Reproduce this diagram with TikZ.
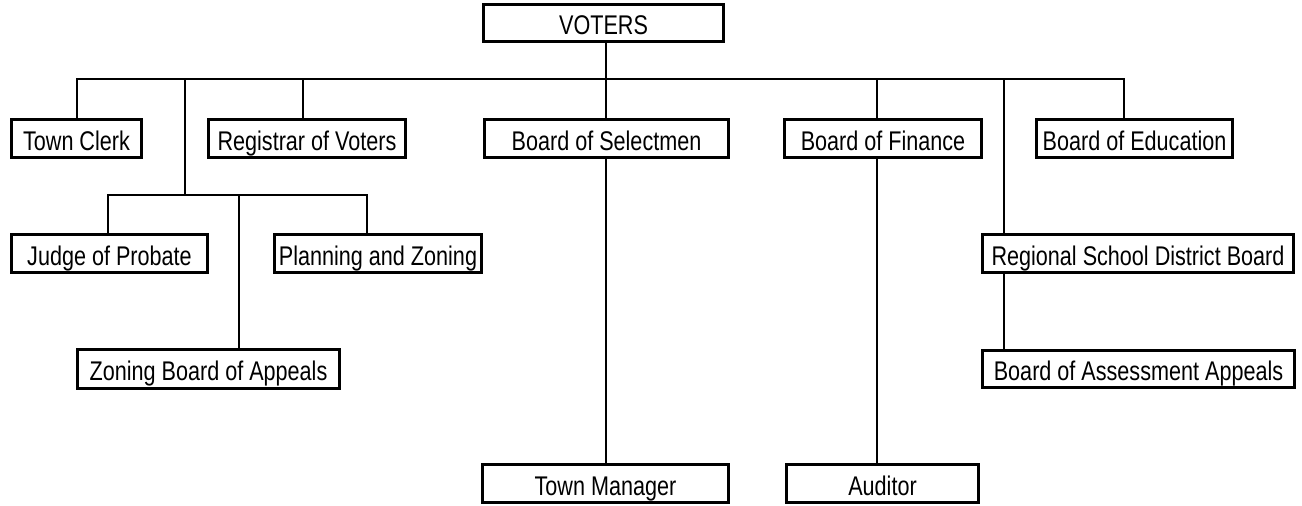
\documentclass[tikz,border=0pt]{standalone}
\usepackage{fontspec}
\setmainfont{Liberation Sans}[FakeStretch=0.80]
\begin{document}
\begin{tikzpicture}[x=1pt,y=-1pt,
  box/.style={draw,line width=3pt,rectangle,inner sep=0pt,outer sep=0pt,
    text height=23pt,text depth=0pt,
    font=\fontsize{27}{30}\selectfont},
  link/.style={line width=2pt}]
\useasboundingbox (0,0) rectangle (1302,506);
% boxes
\node[box,minimum width=240pt,minimum height=37pt] (voters) at (603.5,23) {VOTERS};
\node[box,minimum width=130pt,minimum height=38pt] (clerk) at (76.5,138.5) {Town Clerk};
\node[box,minimum width=197pt,minimum height=38pt] (registrar) at (307,138.5) {Registrar of Voters};
\node[box,minimum width=244pt,minimum height=38pt] (selectmen) at (606.5,138.5) {Board of Selectmen};
\node[box,minimum width=197pt,minimum height=38pt] (finance) at (883,138.5) {Board of Finance};
\node[box,minimum width=196pt,minimum height=38pt] (education) at (1134.5,138.5) {Board of Education};
\node[box,minimum width=196pt,minimum height=38pt] (judge) at (109.5,253.5) {Judge of Probate};
\node[box,minimum width=207pt,minimum height=38pt] (planning) at (378,253.5) {Planning and Zoning};
\node[box,minimum width=262pt,minimum height=39pt] (zoning) at (208.5,369) {Zoning Board of Appeals};
\node[box,minimum width=311pt,minimum height=38pt] (regional) at (1138,253.5) {Regional School District Board};
\node[box,minimum width=312pt,minimum height=37pt] (assessment) at (1138.5,369) {Board of Assessment Appeals};
\node[box,minimum width=246pt,minimum height=38pt] (manager) at (605.5,483.5) {Town Manager};
\node[box,minimum width=192pt,minimum height=38pt] (auditor) at (882.5,483.5) {Auditor};
% bus coordinates
\coordinate (busL) at (77,79);
\coordinate (busR) at (1124,79);
\coordinate (cV) at (606,79);
\coordinate (cJ) at (185,79);
\coordinate (cR) at (303,79);
\coordinate (cF) at (877,79);
\coordinate (cS) at (1004,79);
\coordinate (subJ) at (185,195);
\coordinate (subL) at (108,195);
\coordinate (subM) at (239,195);
\coordinate (subR) at (367,195);
% connectors
\draw[link] (busL |- clerk.north) -- (busL) -- (busR) -- (busR |- education.north);
\draw[link] (cV |- voters.south) -- (cV |- selectmen.north);
\draw[link] (cV |- selectmen.south) -- (cV |- manager.north);
\draw[link] (cR) -- (cR |- registrar.north);
\draw[link] (cF) -- (cF |- finance.north);
\draw[link] (cF |- finance.south) -- (cF |- auditor.north);
\draw[link] (cS) -- (cS |- regional.north);
\draw[link] (cS |- regional.south) -- (cS |- assessment.north);
\draw[link] (cJ) -- (subJ);
\draw[link] (subL |- judge.north) -- (subL) -- (subR) -- (subR |- planning.north);
\draw[link] (subM) -- (subM |- zoning.north);
\end{tikzpicture}
\end{document}
